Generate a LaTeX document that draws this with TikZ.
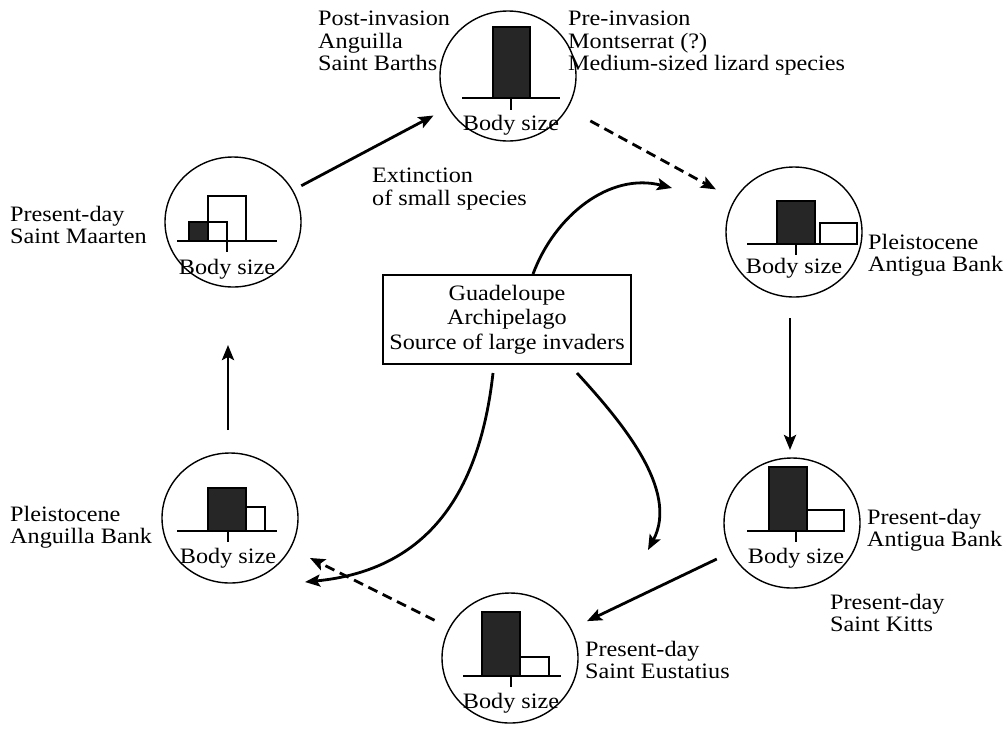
\documentclass[tikz,border=0pt]{standalone}
\usepackage{fontspec}
\setmainfont{Liberation Serif}[FakeStretch=1.1]
\usetikzlibrary{arrows.meta,calc,shapes.geometric}
\begin{document}
\begin{tikzpicture}[x=1pt,y=-1pt,
  circ/.style={ellipse,draw,line width=1.4pt,minimum width=136pt,minimum height=130pt,inner sep=0pt,outer sep=0pt},
  axis/.style={line width=1.5pt},
  barf/.style={draw,line width=1.3pt,fill=black!85},
  baro/.style={draw,line width=1.5pt,fill=white},
  bs/.style={anchor=base,inner sep=0pt,font=\fontsize{22}{22.5}\selectfont},
  lab/.style={anchor=north west,align=left,inner sep=0pt,font=\fontsize{22}{22.5}\selectfont},
  boxs/.style={draw,line width=2pt,minimum width=248pt,minimum height=89pt,align=center,inner sep=0pt,font=\fontsize{22}{24.5}\selectfont},
  arr/.style={line width=2.8pt,-{Stealth[length=15pt,width=12pt,inset=3pt]}},
  dsh/.style={dash pattern=on 10pt off 6pt}
]
\useasboundingbox (0,0) rectangle (1008,732);

% circles
\node[circ] (C1) at (508,76) {};
\node[circ] (C2) at (233,222) {};
\node[circ] (C3) at (794,232) {};
\node[circ] (C4) at (230,518) {};
\node[circ] (C5) at (792,523) {};
\node[circ] (C6) at (510,658) {};

% C1 contents
\draw[barf] (493,27) rectangle (530,98);
\draw[axis] (462,98) -- (560,98) (511,98) -- (511,110);
\node[bs] (T1) at (511,130) {Body size};
% C2 contents
\draw[baro] (208,196) rectangle (246,241);
\draw[baro] (189,222) rectangle (227,241);
\fill[black!85] (189,222) rectangle (208,241);
\draw[line width=1.3pt] (189,222) rectangle (208,241);
\draw[axis] (177,241) -- (277,241) (227,241) -- (227,252);
\node[bs] (T2) at (227,274) {Body size};
% C3 contents
\draw[barf] (777,201) rectangle (815,244);
\draw[baro] (820,223) rectangle (857,244);
\draw[axis] (747,244) -- (857,244) (796,244) -- (796,255);
\node[bs] (T3) at (794,273) {Body size};
% C4 contents
\draw[barf] (208,488) rectangle (246,531);
\draw[baro] (246,507) rectangle (265,531);
\draw[axis] (177,531) -- (277,531) (228,531) -- (228,542);
\node[bs] (T4) at (228,563) {Body size};
% C5 contents
\draw[barf] (769,467) rectangle (807,531);
\draw[baro] (807,510) rectangle (844,531);
\draw[axis] (747,531) -- (844,531) (796,531) -- (796,542);
\node[bs] (T5) at (796,563) {Body size};
% C6 contents
\draw[barf] (482,612) rectangle (520,676);
\draw[baro] (520,657) rectangle (549,676);
\draw[axis] (463,676) -- (561,676) (511,676) -- (511,687);
\node[bs] (T6) at (511,708) {Body size};

% labels
\node[lab] (L1) at (318,11) {Post-invasion\\Anguilla\\Saint Barths};
\node[lab] (L2) at (568,11) {Pre-invasion\\Montserrat (?)\\Medium-sized lizard species};
\node[lab] (L3) at (10,206) {Present-day\\Saint Maarten};
\node[lab] (L4) at (372,168) {Extinction\\of small species};
\node[lab] (L5) at (868,234) {Pleistocene\\Antigua Bank};
\node[lab] (L6) at (867,509) {Present-day\\Antigua Bank};
\node[lab] (L7) at (830,594) {Present-day\\Saint Kitts};
\node[lab] (L8) at (585,641) {Present-day\\Saint Eustatius};
\node[lab] (L9) at (10,506) {Pleistocene\\Anguilla Bank};

% central box
\node[boxs] (B) at (507,319.5) {Guadeloupe\\Archipelago\\Source of large invaders};

% cycle arrows
\draw[arr,shorten <=10pt,shorten >=17pt] (C2) -- (C1);
\draw[arr,dsh,shorten <=26.5pt,shorten >=21.7pt] (C1) -- (C3);
\draw[arr,shorten <=21pt,shorten >=8pt] ([xshift=-2pt]C5.north |- C3.south) -- ([xshift=-2pt]C5.north);
\draw[arr,shorten <=16pt,shorten >=18pt] (C5) -- (C6);
\draw[arr,dsh,shorten <=17pt,shorten >=22pt] (C6) -- (C4);
\draw[arr,shorten <=23pt,shorten >=58pt] ([xshift=-2pt]C4.north) -- ([xshift=-2pt]C4.north |- C2.south);

% invader arrows
\coordinate (t1) at (672,188);
\coordinate (t2) at (305,582);
\coordinate (t3) at (648,550);
\draw[arr] ([xshift=26pt]B.north) .. controls (555,215) and (610,172) .. (t1);
\draw[arr] ([xshift=-14pt,yshift=-8pt]B.south) .. controls (480,490) and (430,570) .. (t2);
\draw[arr] ([xshift=70pt,yshift=-8pt]B.south) .. controls (620,420) and (680,490) .. (t3);
\end{tikzpicture}
\end{document}
